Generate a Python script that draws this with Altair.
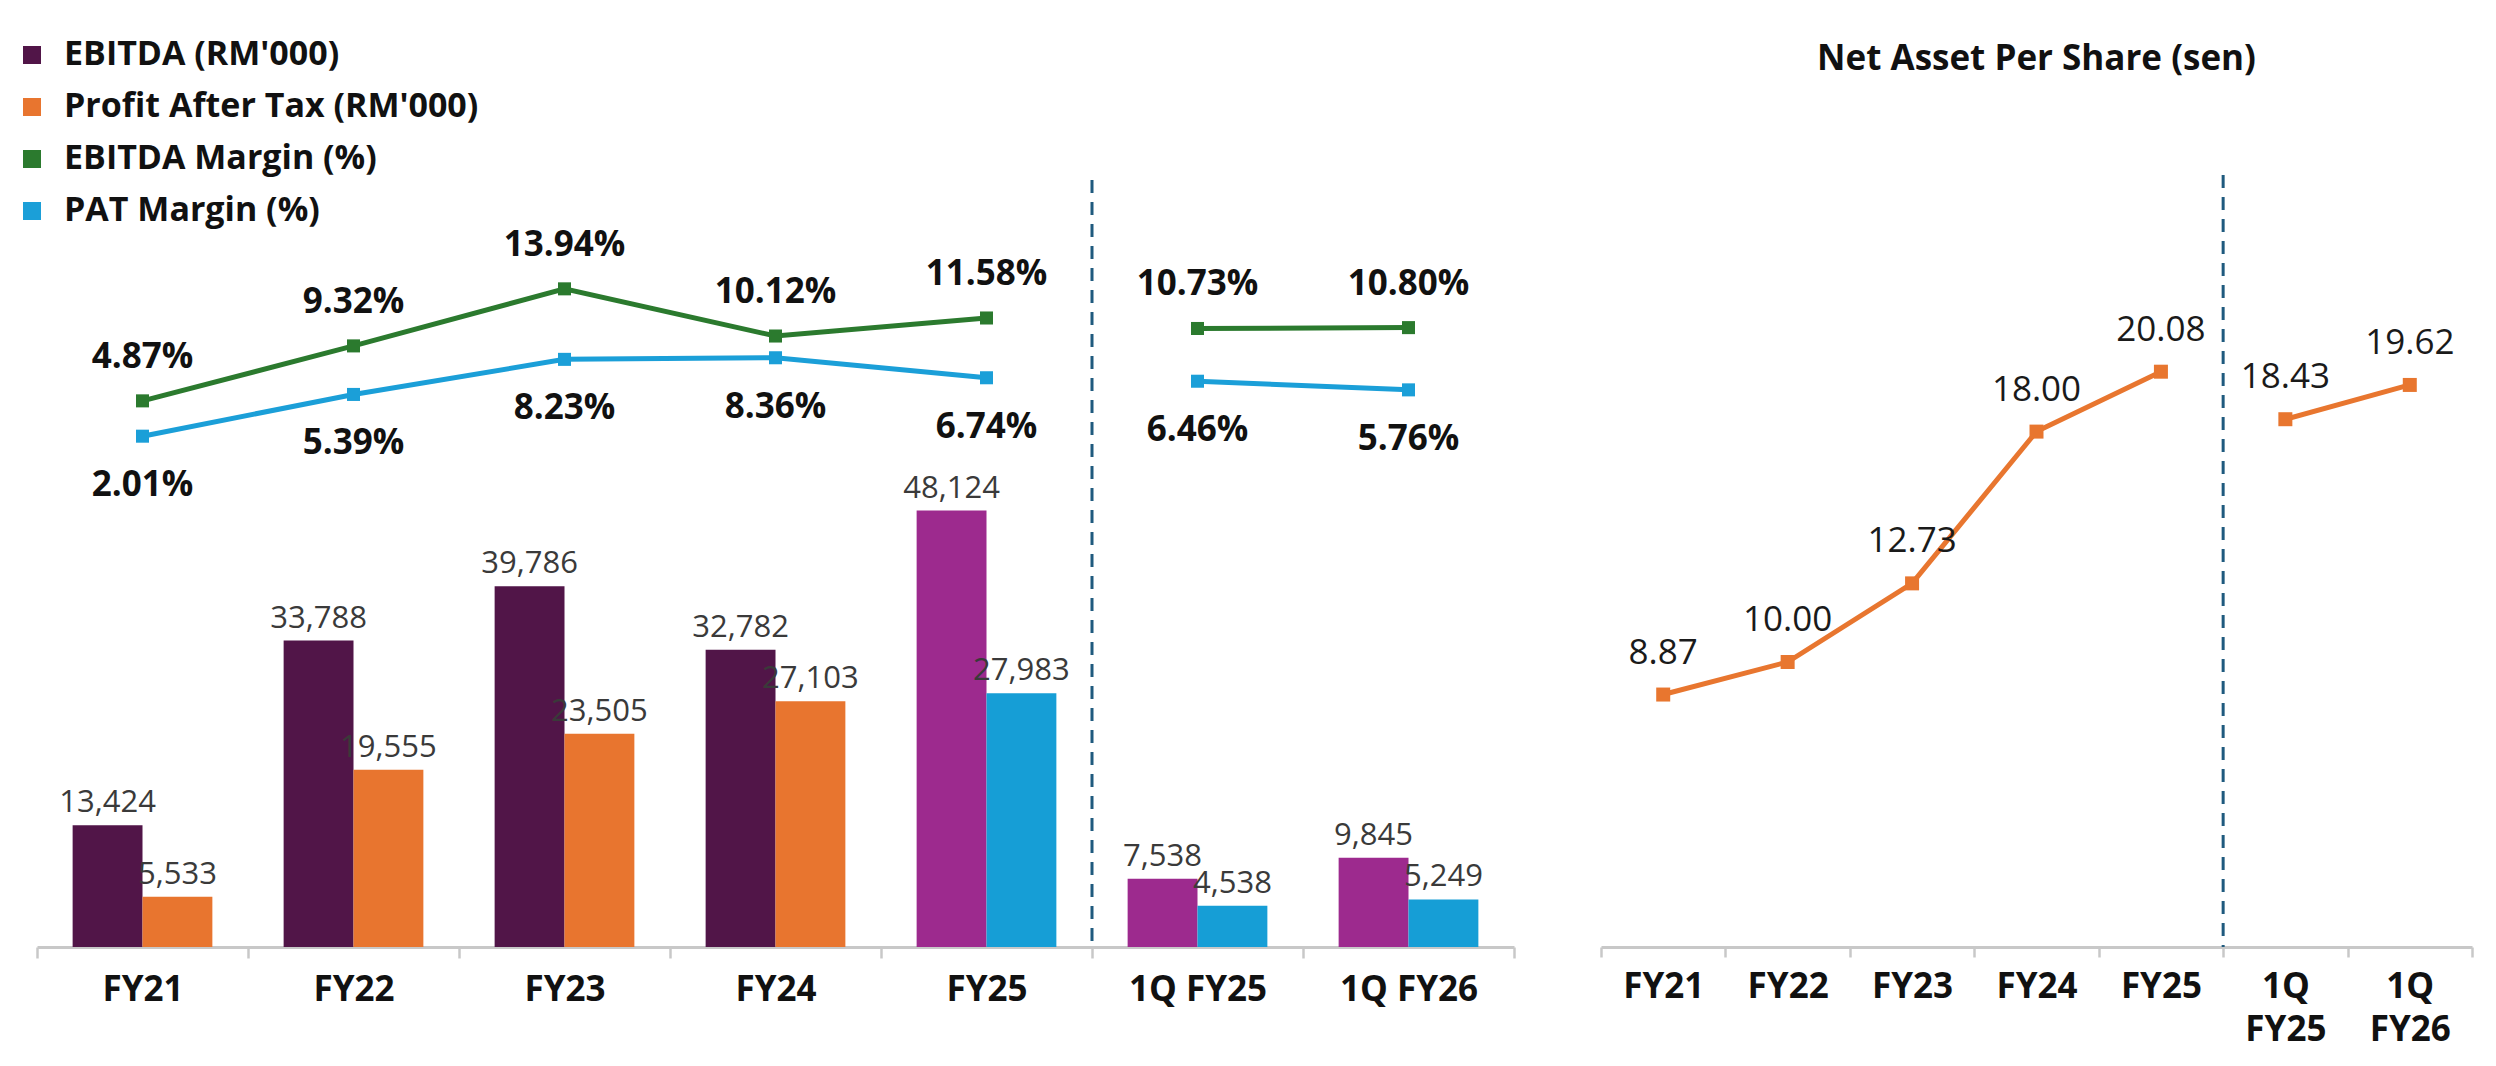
import altair as alt
import pandas as pd

# ---------------- data ----------------
categories = ["FY21", "FY22", "FY23", "FY24", "FY25", "1Q FY25", "1Q FY26"]
periods = ["Annual", "Annual", "Annual", "Annual", "Annual", "Quarter", "Quarter"]
ebitda = [13424, 33788, 39786, 32782, 48124, 7538, 9845]
pat = [5533, 19555, 23505, 27103, 27983, 4538, 5249]
ebitda_margin = [4.87, 9.32, 13.94, 10.12, 11.58, 10.73, 10.80]
pat_margin = [2.01, 5.39, 8.23, 8.36, 6.74, 6.46, 5.76]
nav = [8.87, 10.00, 12.73, 18.00, 20.08, 18.43, 19.62]
highlight_cats = ["FY25", "1Q FY25", "1Q FY26"]
split_cat = "1Q FY25"

legend_names = ["EBITDA (RM'000)", "Profit After Tax (RM'000)", "EBITDA Margin (%)", "PAT Margin (%)"]
color_domain = legend_names + ["EBITDA (recent)", "PAT (recent)"]
color_range = ["#511548", "#E8752F", "#2B7A2E", "#1B9FD8", "#9D2A8E", "#169ED6"]

# ---------------- tables ----------------
bar_rows = []
for c, e, t in zip(categories, ebitda, pat):
    hl = c in highlight_cats
    bar_rows.append({"cat": c, "series": "EBITDA", "value": e,
                     "key": "EBITDA (recent)" if hl else legend_names[0]})
    bar_rows.append({"cat": c, "series": "PAT", "value": t,
                     "key": "PAT (recent)" if hl else legend_names[1]})
bars_df = pd.DataFrame(bar_rows)

m_rows = []
for c, p, em, pm in zip(categories, periods, ebitda_margin, pat_margin):
    m_rows.append({"cat": c, "period": p, "value": em, "key": legend_names[2],
                   "label": f"{em:.2f}%"})
    m_rows.append({"cat": c, "period": p, "value": pm, "key": legend_names[3],
                   "label": f"{pm:.2f}%"})
margin_df = pd.DataFrame(m_rows)

nav_df = pd.DataFrame({"cat": categories, "period": periods, "nav": nav})
split_df = pd.DataFrame({"cat": [split_cat]})

FONT = "Open Sans"
LW, RW, H = 1477, 871, 847

axis_common = dict(title=None, labelAngle=0, tickBand="extent", grid=False,
                   domainColor="#C8C8C8", domainWidth=3, tickColor="#C8C8C8",
                   tickWidth=2.5, labelFont=FONT, labelFontSize=35,
                   labelFontWeight="bold", labelColor="#111111", labelLimit=0)
axis_left = alt.Axis(tickSize=11, labelPadding=14, **axis_common)
axis_right = alt.Axis(tickSize=10, labelPadding=12, labelExpr="split(datum.label, ' ')",
                      labelLineHeight=43, **axis_common)

xscale = alt.Scale(type="band", domain=categories, paddingInner=0, paddingOuter=0)
XL = alt.X("cat:N", scale=xscale, axis=axis_left)
XR = alt.X("cat:N", scale=xscale, axis=axis_right)

color_enc = alt.Color(
    "key:N",
    scale=alt.Scale(domain=color_domain, range=color_range),
    legend=alt.Legend(title=None, orient="none", legendX=-22, legendY=-62,
                      direction="vertical", values=legend_names,
                      symbolType="square", symbolSize=324, symbolStrokeWidth=0,
                      symbolOpacity=1,
                      labelFont=FONT, labelFontSize=34, labelFontWeight="bold",
                      labelColor="#111111", labelOffset=15, rowPadding=18,
                      labelLimit=0),
)

ybar = alt.Y("value:Q", scale=alt.Scale(domain=[0, 93400], nice=False, zero=False), axis=None)
ymar = alt.Y("value:Q", scale=alt.Scale(domain=[-39.35, 29.23], nice=False, zero=False), axis=None)
xoff = alt.XOffset("series:N", scale=alt.Scale(domain=["EBITDA", "PAT"],
                                               paddingOuter=0.51, paddingInner=0))

bars = alt.Chart(bars_df).mark_bar().encode(x=XL, xOffset=xoff, y=ybar, color=color_enc)
bar_labels = alt.Chart(bars_df).mark_text(
    font=FONT, fontSize=31, color="#3A3A3A", baseline="middle", dy=-22
).encode(x=XL, xOffset=xoff, y=ybar, text=alt.Text("value:Q", format=","))

rule_left = alt.Chart(split_df).mark_rule(
    strokeDash=[13, 9], strokeWidth=3, color="#1F5A7E"
).encode(x=alt.X("cat:N", scale=xscale, axis=axis_left, bandPosition=0),
         y=alt.value(80), y2=alt.value(H))

lines = alt.Chart(margin_df).mark_line(strokeWidth=5).encode(
    x=XL, y=ymar, color=color_enc, detail="period:N")
pts = alt.Chart(margin_df).mark_point(shape="square", filled=True, size=170, opacity=1).encode(
    x=XL, y=ymar, color=color_enc)
lab_e = alt.Chart(margin_df).transform_filter(
    alt.datum.key == legend_names[2]
).mark_text(font=FONT, fontSize=35, fontWeight="bold", color="#111111",
            baseline="middle", dy=-44).encode(x=XL, y=ymar, text="label:N")
lab_p = alt.Chart(margin_df).transform_filter(
    alt.datum.key == legend_names[3]
).mark_text(font=FONT, fontSize=35, fontWeight="bold", color="#111111",
            baseline="middle", dy=49).encode(x=XL, y=ymar, text="label:N")

left = alt.layer(bars, bar_labels, rule_left, lines, pts, lab_e, lab_p).resolve_scale(
    y="independent").properties(width=LW, height=H)

# ---------------- right panel ----------------
ynav = alt.Y("nav:Q", scale=alt.Scale(domain=[0.104, 29.514], nice=False, zero=False), axis=None)
nav_line = alt.Chart(nav_df).mark_line(color="#E8762F", strokeWidth=5).encode(
    x=XR, y=ynav, detail="period:N")
nav_pts = alt.Chart(nav_df).mark_point(shape="square", filled=True, size=196,
                                       color="#E8762F", opacity=1).encode(x=XR, y=ynav)
nav_lab = alt.Chart(nav_df).mark_text(font=FONT, fontSize=35, color="#1A1A1A",
                                      baseline="middle", dy=-42).encode(
    x=XR, y=ynav, text=alt.Text("nav:Q", format=".2f"))
rule_right = alt.Chart(split_df).mark_rule(
    strokeDash=[13, 9], strokeWidth=3, color="#1F5A7E"
).encode(x=alt.X("cat:N", scale=xscale, axis=axis_right, bandPosition=0),
         y=alt.value(75), y2=alt.value(H))

right = alt.layer(rule_right, nav_line, nav_pts, nav_lab).properties(
    width=RW, height=H,
    title=alt.TitleParams("Net Asset Per Share (sen)", font=FONT, fontSize=35,
                          fontWeight="bold", color="#111111", anchor="middle", offset=23),
)

chart = alt.hconcat(left, right, spacing=87, bounds="flush").properties(
    padding={"left": 7, "top": 30, "right": 5, "bottom": 6},
    background="white",
).configure_view(strokeWidth=0)

chart.save("out.html", embed_options={"renderer": "svg", "actions": False})
